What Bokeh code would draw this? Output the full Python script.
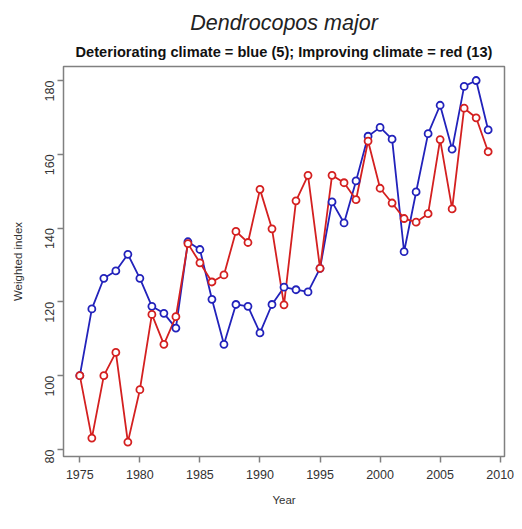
import math
from bokeh.plotting import figure
from bokeh.models import Range1d, FixedTicker, Title
from bokeh.embed import file_html
from bokeh.resources import INLINE

years = list(range(1975, 2010))
blue = [100.0, 118.1, 126.4, 128.4, 132.9, 126.4, 118.8, 116.9, 112.9, 136.3,
        134.2, 120.7, 108.5, 119.3, 118.8, 111.6, 119.3, 124.0, 123.3, 122.7,
        129.1, 147.1, 141.4, 152.8, 164.9, 167.3, 164.1, 133.6, 149.8, 165.6,
        173.3, 161.4, 178.4, 180.0, 166.6]
red = [100.0, 83.1, 100.0, 106.3, 82.0, 96.2, 116.6, 108.5, 116.0, 135.8,
       130.6, 125.4, 127.3, 139.1, 136.1, 150.5, 139.8, 119.2, 147.4, 154.3,
       129.1, 154.3, 152.3, 147.7, 163.6, 150.8, 146.8, 142.6, 141.6, 143.9,
       164.0, 145.2, 172.5, 169.9, 160.7]
x_ticks = [1975, 1980, 1985, 1990, 1995, 2000, 2005, 2010]
y_ticks = [80, 100, 120, 140, 160, 180]

BLUE = "#2222bb"
RED = "#d42020"

p = figure(width=514, height=513, output_backend="svg", toolbar_location=None,
           x_range=Range1d(1973.64, 2010.36), y_range=Range1d(78.1, 183.8),
           min_border_left=63, min_border_right=10, min_border_top=66,
           min_border_bottom=57)
p.background_fill_color = "white"
p.border_fill_color = "white"
p.grid.visible = False
p.outline_line_color = "#808080"
p.outline_line_width = 1.5

p.add_layout(Title(text="Deteriorating climate = blue (5); Improving climate = red (13)",
                   text_font="Liberation Sans", text_font_style="bold",
                   text_font_size="14.6px", align="center", text_color="#111111",
                   standoff=13), "above")
p.add_layout(Title(text="Dendrocopos major", text_font="Liberation Sans",
                   text_font_style="italic", text_font_size="21.5px",
                   align="center", text_color="#222222", standoff=1), "above")

p.xaxis.ticker = FixedTicker(ticks=x_ticks)
p.yaxis.ticker = FixedTicker(ticks=y_ticks)
for ax in (p.xaxis, p.yaxis):
    ax.axis_line_color = None
    ax.major_tick_line_color = "#808080"
    ax.major_tick_line_width = 1.5
    ax.major_tick_out = 6
    ax.major_tick_in = 0
    ax.minor_tick_line_color = None
    ax.major_label_text_font = "Liberation Sans"
    ax.major_label_text_font_size = "12.5px"
    ax.major_label_text_color = "#333333"
    ax.axis_label_text_font = "Liberation Sans"
    ax.axis_label_text_font_size = "11.5px"
    ax.axis_label_text_font_style = "normal"
    ax.axis_label_text_color = "#333333"
p.xaxis.axis_label = "Year"
p.yaxis.axis_label = "Weighted index"
p.yaxis.major_label_orientation = math.pi / 2
p.xaxis.major_label_standoff = 7
p.xaxis.axis_label_standoff = 12
p.yaxis.major_label_standoff = 8
p.yaxis.axis_label_standoff = 14

p.line(years, blue, line_color=BLUE, line_width=1.8)
p.line(years, red, line_color=RED, line_width=1.8)
p.scatter(years, blue, size=7, line_color=BLUE, line_width=1.8, fill_color="white")
p.scatter(years, red, size=7, line_color=RED, line_width=1.8, fill_color="white")

open("out.html", "w").write(file_html(p, INLINE))
